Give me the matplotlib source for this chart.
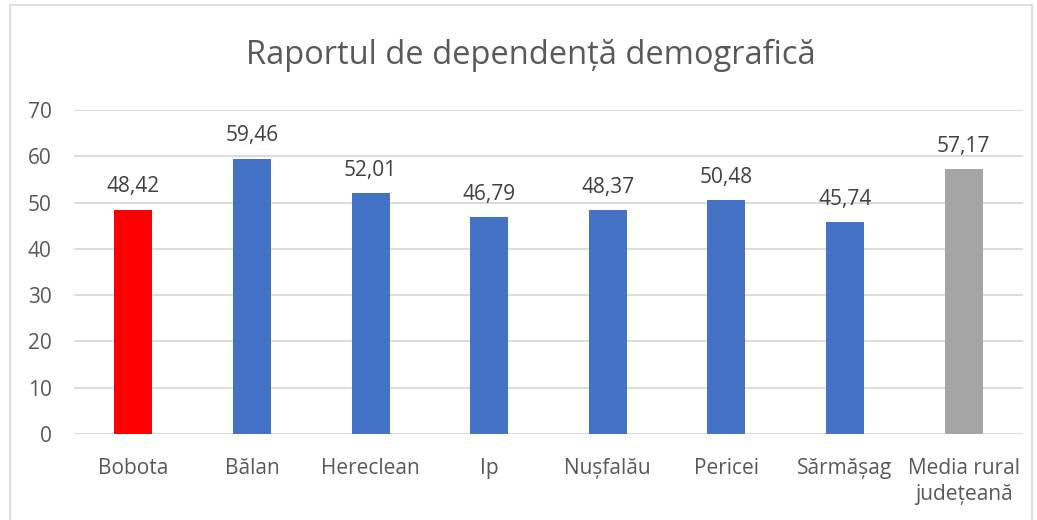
import matplotlib.pyplot as plt
from matplotlib.patches import Rectangle

plt.rcParams['font.family'] = ['Open Sans', 'DejaVu Sans']

categories = ["Bobota", "Bălan", "Hereclean", "Ip", "Nușfalău", "Pericei", "Sărmășag", "Media rural\njudețeană"]
values = [48.42, 59.46, 52.01, 46.79, 48.37, 50.48, 45.74, 57.17]
colors = ["#FF0000"] + ["#4472C4"] * 6 + ["#A5A5A5"]
title = "Raportul de dependență demografică"

txt = "#595959"
fig = plt.figure(figsize=(10.37, 5.20), dpi=100)
ax = fig.add_axes([74 / 1037, 1 - 434 / 520, (1023 - 74) / 1037, (434 - 110) / 520])

x = range(len(categories))
ax.bar(x, values, width=0.32, color=colors, zorder=3)
for i, v in zip(x, values):
    ax.annotate(f"{v:.2f}".replace(".", ","), (i, v), xytext=(0, 9), textcoords="offset points",
                ha="center", va="bottom", fontsize=15, color="#404040")

ax.set_ylim(0, 70)
ax.set_xlim(-0.5, len(categories) - 0.5)
ax.set_yticks(range(0, 71, 10))
ax.set_xticks(list(x))
ax.set_xticklabels(categories, fontsize=15, color=txt, linespacing=1.35)
ax.tick_params(axis="y", labelsize=15, labelcolor=txt, length=0, pad=16)
ax.tick_params(axis="x", length=0, pad=17)
ax.grid(axis="y", color="#D9D9D9", linewidth=1.3, zorder=0)
for s in ax.spines.values():
    s.set_visible(False)

fig.text(0.512, 1 - 55 / 520, title, ha="center", va="center", fontsize=23.5, color=txt)
fig.patches.append(Rectangle((10 / 1037, -0.01), 1022 / 1037, 1.0, transform=fig.transFigure,
                             fill=False, edgecolor="#D9D9D9", linewidth=1.2))

fig.savefig("out.png", dpi=100)
